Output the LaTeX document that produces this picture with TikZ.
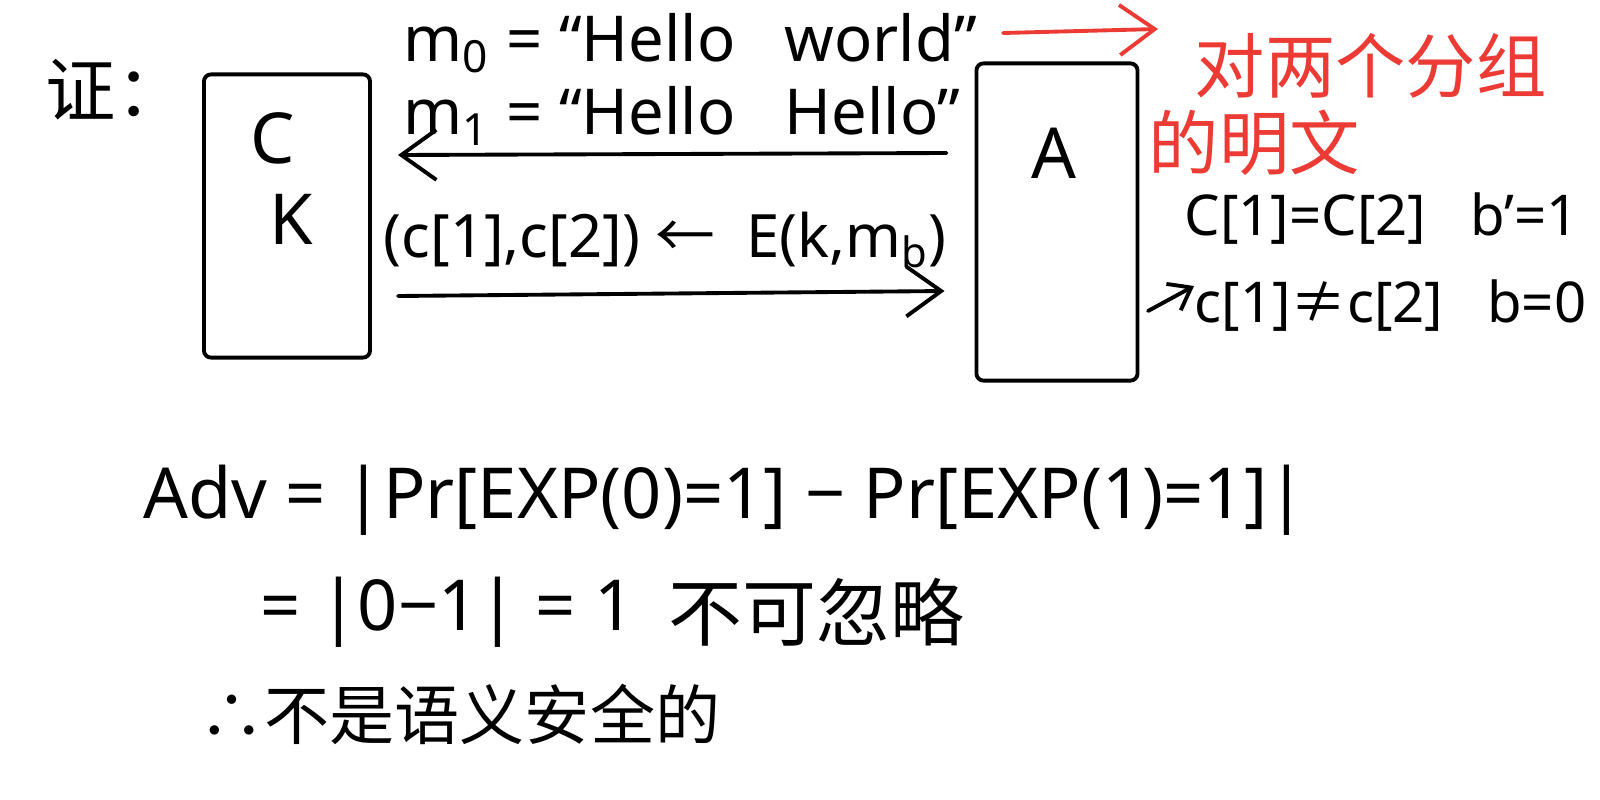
\documentclass[tikz,border=0pt]{standalone}
\usepackage{fontspec}
\setmainfont{Noto Sans}
\newfontfamily\cjk{Noto Sans CJK SC}
\usetikzlibrary{arrows.meta}
\definecolor{redpen}{RGB}{236,58,52}
\begin{document}
\begin{tikzpicture}[x=0.01cm,y=-0.01cm,
  ink/.style={line width=1.1pt, draw=black, line cap=round, line join=round},
  arr/.style={ink, -{Straight Barb[length=3.5mm,width=5mm]}},
  box/.style={ink, rectangle, rounded corners=2pt, inner sep=0pt},
  txt/.style={anchor=west, inner sep=0pt, font=\fontsize{18}{20}\selectfont},
  small/.style={anchor=west, inner sep=0pt, font=\fontsize{16}{18}\selectfont},
  big/.style={anchor=west, inner sep=0pt, font=\fontsize{20}{23}\selectfont},
  cjktxt/.style={anchor=west, inner sep=0pt, font=\fontsize{20}{22}\selectfont\cjk},
  letter/.style={inner sep=0pt, font=\fontsize{20}{22}\selectfont},
  redtxt/.style={cjktxt, text=redpen},
  redarr/.style={line width=1.1pt, draw=redpen, line cap=round, -{Straight Barb[length=3.5mm,width=5mm]}}
]
\useasboundingbox (0,0) rectangle (1600,800);

% proof label
\node[cjktxt] (zheng) at (45,90) {证：};

% boxes
\node[box, minimum width=1.66cm, minimum height=2.83cm] (C) at (287,216) {};
\node[box, minimum width=1.61cm, minimum height=3.17cm] (A) at (1057,222) {};
\node[letter] (Cl) at (273,138) {C};
\node[letter] (Kl) at (291,219) {K};
\node[letter] (Al) at (1054,153) {A};

% messages
\node[txt] (m0) at (403,43) {m\textsubscript{0} = “Hello\ \ \ world”};
\node[txt] (m1) at (403,116) {m\textsubscript{1} = “Hello\ \ \ Hello”};
\coordinate (s1) at ([xshift=-0.28cm]A.west |- 0,153);
\coordinate (e1) at ([xshift=0.26cm]C.east |- 0,155);
\draw[arr] (s1) -- (e1);

\node[small, font=\fontsize{17}{19}\selectfont] (ct) at (383,240) {(c[1],c[2]) {\cjk ←}\ \ E(k,m\textsubscript{b})};
\coordinate (s2) at ([xshift=0.26cm]C.east |- 0,296);
\coordinate (e2) at ([xshift=-0.3cm]A.west |- 0,291);
\draw[arr] (s2) -- (e2);

% red annotation
\coordinate (r0) at (1003,33);
\coordinate (r1) at (1158,29);
\draw[redarr] (r0) -- (r1);
\node[redtxt] (red1) at (1194,66) {对两个分组};
\node[redtxt] (red2) at (1148,143) {的明文};

% A's decision
\node[small] (d1) at (1184,219) {C[1]=C[2]\ \ \ b'=1};
\node[small] (d2) at (1194,306) {c[1]{\cjk ≠}c[2]\ \ \ b=0};
\coordinate (d2s) at (1148,311);
\draw[ink, -{Straight Barb[length=2mm,width=3mm]}] (d2s) -- ([yshift=0.2cm]d2.west);

% advantage
\node[big] (adv) at (143,500) {Adv = |Pr[EXP(0)=1] − Pr[EXP(1)=1]|};
\node[big] (eq) at (260,612) {= |0−1| = 1};
\node[cjktxt, font=\fontsize{21}{24}\selectfont\cjk] (negl) at (668,612) {不可忽略};
\node[cjktxt, font=\fontsize{18.5}{20}\selectfont\cjk] (concl) at (199,714) {∴不是语义安全的};
\end{tikzpicture}
\end{document}
